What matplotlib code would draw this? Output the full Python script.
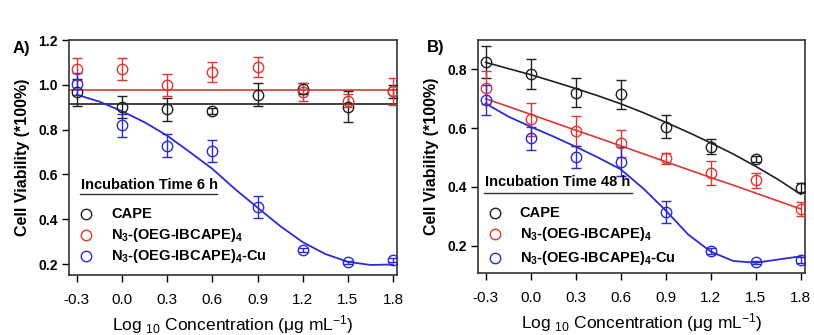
import matplotlib
matplotlib.use("Agg")
import matplotlib.pyplot as plt

plt.rcParams["font.family"] = ["Liberation Sans", "DejaVu Sans"]

# concentrations (log10, ug/mL)
log_conc = [-0.3, 0.0, 0.3, 0.6, 0.9, 1.2, 1.5, 1.8]
tick_labels = ["-0.3", "0.0", "0.3", "0.6", "0.9", "1.2", "1.5", "1.8"]
fit_x = [-0.3, -0.15, 0.0, 0.15, 0.3, 0.45, 0.6, 0.75, 0.9, 1.05, 1.2, 1.35, 1.5, 1.65, 1.8]

# panel A - 6 h
cape_6h = [0.967, 0.900, 0.890, 0.884, 0.956, 0.983, 0.903, 0.971]
cape_6h_err = [0.06, 0.05, 0.05, 0.012, 0.05, 0.025, 0.07, 0.03]
n3_6h = [1.071, 1.070, 1.000, 1.057, 1.079, 0.968, 0.930, 0.971]
n3_6h_err = [0.05, 0.05, 0.05, 0.045, 0.045, 0.04, 0.03, 0.06]
cu_6h = [1.005, 0.819, 0.729, 0.705, 0.454, 0.262, 0.207, 0.218]
cu_6h_err = [0.05, 0.05, 0.05, 0.05, 0.05, 0.01, 0.006, 0.01]
cape_6h_fit = 0.915
n3_6h_fit = 0.975
cu_6h_fit = [0.956, 0.925, 0.882, 0.833, 0.773, 0.700, 0.625, 0.535, 0.452,
             0.370, 0.298, 0.245, 0.210, 0.196, 0.198]

# panel B - 48 h
cape_48h = [0.826, 0.785, 0.721, 0.715, 0.605, 0.537, 0.495, 0.398]
cape_48h_err = [0.055, 0.05, 0.05, 0.05, 0.04, 0.025, 0.01, 0.015]
n3_48h = [0.738, 0.630, 0.591, 0.548, 0.497, 0.448, 0.423, 0.325]
n3_48h_err = [0.055, 0.055, 0.05, 0.045, 0.02, 0.04, 0.025, 0.025]
cu_48h = [0.696, 0.565, 0.503, 0.486, 0.315, 0.183, 0.143, 0.151]
cu_48h_err = [0.05, 0.04, 0.037, 0.05, 0.037, 0.01, 0.005, 0.01]
cape_48h_fit = [0.824, 0.803, 0.782, 0.759, 0.735, 0.710, 0.683, 0.653, 0.620,
                0.586, 0.550, 0.512, 0.470, 0.425, 0.375]
n3_48h_fit = [0.700, 0.674, 0.647, 0.620, 0.593, 0.567, 0.540, 0.513, 0.486,
              0.459, 0.432, 0.406, 0.379, 0.352, 0.325]
cu_48h_fit = [0.684, 0.640, 0.605, 0.572, 0.537, 0.500, 0.460, 0.395, 0.320,
              0.238, 0.180, 0.148, 0.142, 0.153, 0.164]

BLACK = "#202020"
RED = "#e03535"
BLUE = "#2b2bd6"
NARROW = ["Liberation Sans Narrow", "Liberation Sans"]
names = ["CAPE", r"N$\mathregular{_3}$-(OEG-IBCAPE)$\mathregular{_4}$",
         r"N$\mathregular{_3}$-(OEG-IBCAPE)$\mathregular{_4}$-Cu"]
colors = [BLACK, RED, BLUE]

fig = plt.figure(figsize=(8.14, 3.35), dpi=100)
ax_a = fig.add_axes([0.0848, 0.179, 0.403, 0.7015])
ax_b = fig.add_axes([0.587, 0.185, 0.4017, 0.6955])


def draw_points(ax, y, err, color):
    ax.errorbar(log_conc, y, yerr=err, fmt="o", ms=7.5, mfc="none", mec=color,
                mew=1.0, ecolor=color, elinewidth=1.0, capsize=3.5, capthick=1.0,
                zorder=3)


def style_axes(ax, ylim, yticks, label, legend_title, leg):
    ax.set_xlim(-0.352, 1.827)
    ax.set_ylim(*ylim)
    ax.set_xticks(log_conc)
    ax.set_xticklabels(tick_labels, fontsize=11, family=NARROW)
    ax.set_yticks(yticks)
    ax.set_yticklabels([f"{t:.1f}" for t in yticks], fontsize=10, fontweight="bold")
    for side in ["top", "right", "left", "bottom"]:
        ax.spines[side].set_linewidth(1.2)
        ax.spines[side].set_color("#333333")
    ax.tick_params(direction="out", length=5, width=1.0, top=False, right=False, pad=3)
    ax.tick_params(axis="x", pad=8)
    ax.set_ylabel("Cell Viability (*100%)", fontsize=11.5, fontweight="bold", labelpad=6)
    ax.set_xlabel(r"Log $\mathregular{_{10}}$ Concentration (μg mL$\mathregular{^{-1}}$)",
                  fontsize=12.5, family=NARROW, labelpad=4)
    ax.text(leg["lab_x"], leg["lab_y"], label, transform=ax.transAxes, fontsize=12,
            fontweight="bold", va="center", ha="left")
    # legend box drawn by hand
    ax.text(leg["x0"] + 0.004, leg["title_y"], legend_title, transform=ax.transAxes,
            fontsize=10.5, fontweight="bold", va="center", ha="left")
    ax.plot([leg["x0"], leg["x1"]], [leg["line_y"]] * 2, color="#333333", lw=1.0,
            transform=ax.transAxes, clip_on=False)
    for ry, name, c in zip(leg["rows"], names, colors):
        ax.plot([0.052], [ry], "o", ms=7.5, mfc="none", mec=c, mew=1.0,
                transform=ax.transAxes, clip_on=False)
        ax.text(0.128, ry, name, transform=ax.transAxes, fontsize=10.5,
                fontweight="bold", va="center", ha="left")


# panel A
draw_points(ax_a, cape_6h, cape_6h_err, BLACK)
draw_points(ax_a, n3_6h, n3_6h_err, RED)
draw_points(ax_a, cu_6h, cu_6h_err, BLUE)
ax_a.axhline(cape_6h_fit, color=BLACK, lw=1.2, zorder=2)
ax_a.axhline(n3_6h_fit, color=RED, lw=1.2, zorder=2)
ax_a.plot(fit_x, cu_6h_fit, color=BLUE, lw=1.3, zorder=2)
style_axes(ax_a, (0.151, 1.2), [0.2, 0.4, 0.6, 0.8, 1.0, 1.2], "A)",
           "Incubation Time 6 h",
           dict(x0=0.034, x1=0.451, title_y=0.383, line_y=0.345,
                rows=[0.260, 0.172, 0.081], lab_x=-0.172, lab_y=0.962))

# panel B
draw_points(ax_b, cape_48h, cape_48h_err, BLACK)
draw_points(ax_b, n3_48h, n3_48h_err, RED)
draw_points(ax_b, cu_48h, cu_48h_err, BLUE)
ax_b.plot(fit_x, cape_48h_fit, color=BLACK, lw=1.2, zorder=2)
ax_b.plot(fit_x, n3_48h_fit, color=RED, lw=1.2, zorder=2)
ax_b.plot(fit_x, cu_48h_fit, color=BLUE, lw=1.3, zorder=2)
style_axes(ax_b, (0.107, 0.9), [0.2, 0.4, 0.6, 0.8], "B)",
           "Incubation Time 48 h",
           dict(x0=0.018, x1=0.47, title_y=0.39, line_y=0.343,
                rows=[0.258, 0.167, 0.064], lab_x=-0.155, lab_y=0.97))

fig.savefig("out.png", dpi=100, facecolor="white")
